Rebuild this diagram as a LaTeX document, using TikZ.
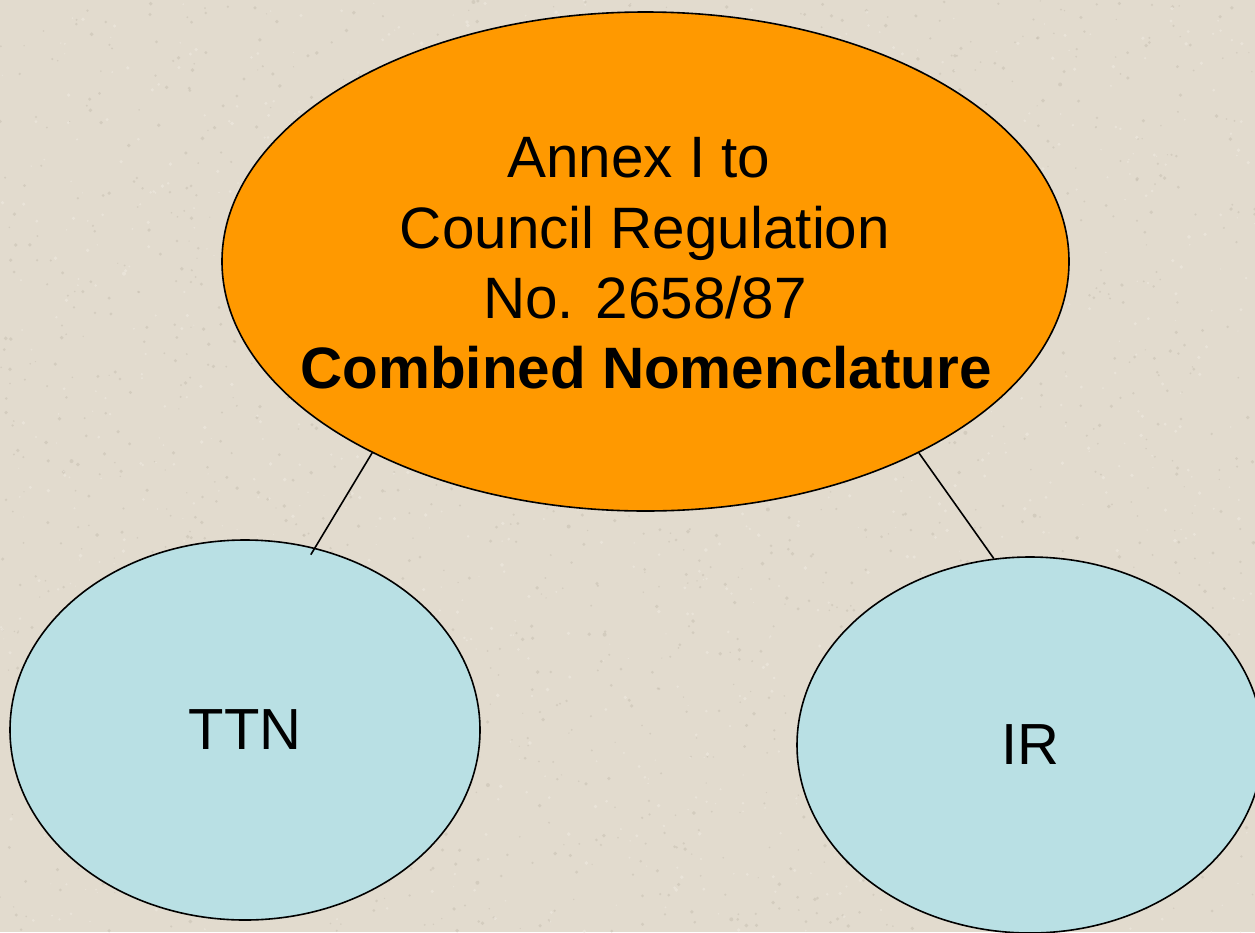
\documentclass[tikz,border=0pt]{standalone}
\usepackage{fontspec}
\setmainfont{Liberation Sans}
\usetikzlibrary{shapes.geometric}
\definecolor{bgc}{RGB}{226,219,206}
\definecolor{speckd}{RGB}{200,192,178}
\definecolor{speckl}{RGB}{238,233,224}
\definecolor{orng}{RGB}{255,153,0}
\definecolor{lblue}{RGB}{185,224,228}
\tikzset{
  ell/.style={ellipse, draw=black, line width=1.6pt, inner sep=0pt},
  topell/.style={ell, fill=orng, minimum width=847pt, minimum height=499pt},
  subell/.style={ell, fill=lblue, minimum width=470pt, minimum height=380pt, font=\fontsize{58}{70}\selectfont},
  txt/.style={anchor=base, inner sep=0pt, font=\fontsize{58.4}{70}\selectfont},
  conn/.style={draw=black, line width=1.6pt}
}
\begin{document}
\begin{tikzpicture}[x=1pt,y=-1pt]
  \fill[bgc] (0,0) rectangle (1255,932);
  \useasboundingbox (0,0) rectangle (1255,932);
  \pgfmathsetseed{7}
  \foreach \i in {1,...,1800}{
    \pgfmathsetmacro{\px}{1255*rnd}
    \pgfmathsetmacro{\py}{932*rnd}
    \pgfmathsetmacro{\pr}{0.6+1.4*rnd}
    \fill[speckd, opacity=0.55] (\px,\py) circle[radius=\pr];
  }
  \foreach \i in {1,...,1200}{
    \pgfmathsetmacro{\px}{1255*rnd}
    \pgfmathsetmacro{\py}{932*rnd}
    \pgfmathsetmacro{\pr}{0.6+1.4*rnd}
    \fill[speckl, opacity=0.6] (\px,\py) circle[radius=\pr];
  }
  \node[topell] (cn) at (645.5,261.5) {};
  \node[txt] (l1) at (639,177) {Annex I to};
  \node[txt] (l2) at (645,248) {Council Regulation};
  \node[txt] (l3) at (645,318) {No. 2658/87};
  \node[txt] (l4) at (646,388) {\bfseries Combined Nomenclature};
  \node[subell] (ttn) at (245,730) {TTN};
  \node[subell, minimum width=466pt, minimum height=376pt] (ir) at (1030,745) {IR};
  \draw[conn, shorten >=-8pt] (cn.215.9) -- (ttn.69);
  \draw[conn] (cn.325.2) -- (ir.101.5);
\end{tikzpicture}
\end{document}
